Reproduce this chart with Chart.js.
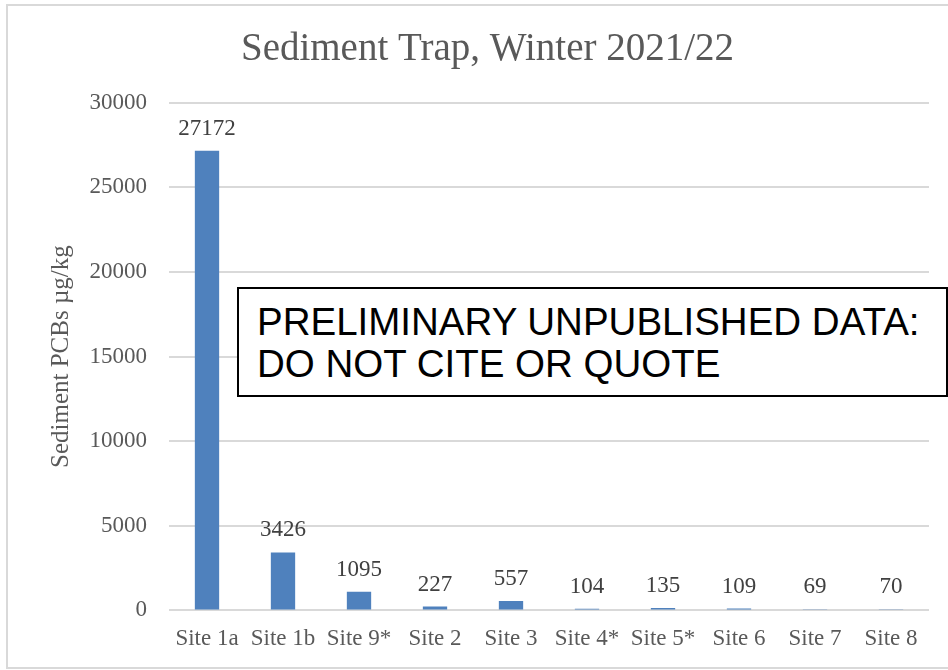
<!DOCTYPE html>
<html>
<head>
<meta charset="utf-8">
<script src="https://cdn.jsdelivr.net/npm/chart.js@4.4.1/dist/chart.umd.min.js"></script>
<style>
  html, body { margin: 0; padding: 0; background: #fff; }
  #wrap { position: relative; width: 948px; height: 670px; }
  #note {
    position: absolute; left: 237px; top: 287px; width: 689px; height: 106px;
    border: 2px solid #000; background: #fff; padding-left: 18px;
    font-family: "Liberation Sans", Arial, sans-serif; font-size: 38.5px; color: #000;
    line-height: 42px; box-sizing: content-box;
  }
  #note div { padding-top: 12px; }
</style>
</head>
<body>
<div id="wrap">
  <canvas id="myChart" width="948" height="670"></canvas>
  <div id="note"><div>PRELIMINARY UNPUBLISHED DATA:<br>DO NOT CITE OR QUOTE</div></div>
</div>
<script>
const sites = ['Site 1a', 'Site 1b', 'Site 9*', 'Site 2', 'Site 3', 'Site 4*', 'Site 5*', 'Site 6', 'Site 7', 'Site 8'];
const pcbValues = [27172, 3426, 1095, 227, 557, 104, 135, 109, 69, 70];
const yTicks = [0, 5000, 10000, 15000, 20000, 25000, 30000];

const serif = "'Liberation Serif', 'DejaVu Serif', serif";

// light gray frame around the chart
const framePlugin = {
  id: 'frame',
  beforeDraw(chart) {
    const ctx = chart.ctx;
    ctx.save();
    ctx.fillStyle = '#fff';
    ctx.fillRect(0, 0, chart.width, chart.height);
    ctx.strokeStyle = '#d9d9d9';
    ctx.lineWidth = 2;
    ctx.beginPath();
    ctx.moveTo(chart.width, 5);
    ctx.lineTo(7, 5);
    ctx.lineTo(7, 668);
    ctx.lineTo(chart.width, 668);
    ctx.stroke();
    ctx.restore();
  }
};

// value labels above each bar
const valueLabels = {
  id: 'valueLabels',
  afterDatasetsDraw(chart) {
    const ctx = chart.ctx;
    const meta = chart.getDatasetMeta(0);
    ctx.save();
    ctx.font = '23px ' + serif;
    ctx.fillStyle = '#404040';
    ctx.textAlign = 'center';
    ctx.textBaseline = 'alphabetic';
    meta.data.forEach((bar, i) => {
      ctx.fillText(String(pcbValues[i]), bar.x, bar.y - 16);
    });
    ctx.restore();
  }
};

new Chart(document.getElementById('myChart'), {
  type: 'bar',
  data: {
    labels: sites,
    datasets: [{
      data: pcbValues,
      backgroundColor: '#4f81bd',
      barPercentage: 0.5,
      categoryPercentage: 0.64,
    }],
  },
  options: {
    responsive: false,
    animation: false,
    layout: { padding: { left: 46, right: 19, top: 8, bottom: 10 } },
    plugins: {
      legend: { display: false },
      tooltip: { enabled: false },
      title: {
        display: true,
        text: 'Sediment Trap, Winter 2021/22',
        color: '#595959',
        font: { family: serif, size: 39, weight: 'normal' },
        padding: { top: 18, bottom: 30 },
      },
    },
    scales: {
      x: {
        grid: { display: false },
        border: { display: false },
        ticks: { color: '#595959', font: { family: serif, size: 23 }, padding: 7, maxRotation: 0, autoSkip: false },
      },
      y: {
        min: 0,
        max: 30000,
        afterBuildTicks(scale) { scale.ticks = yTicks.map(v => ({ value: v })); },
        afterFit(scale) { scale.width = 123; },
        grid: { color: '#d9d9d9', lineWidth: 2, drawTicks: false },
        border: { display: false },
        ticks: { color: '#595959', font: { family: serif, size: 23 }, padding: 22, callback: v => String(v) },
        title: {
          display: true,
          text: 'Sediment PCBs µg/kg',
          color: '#595959',
          font: { family: serif, size: 25 },
          padding: 0,
        },
      },
    },
  },
  plugins: [framePlugin, valueLabels],
});
</script>
</body>
</html>
